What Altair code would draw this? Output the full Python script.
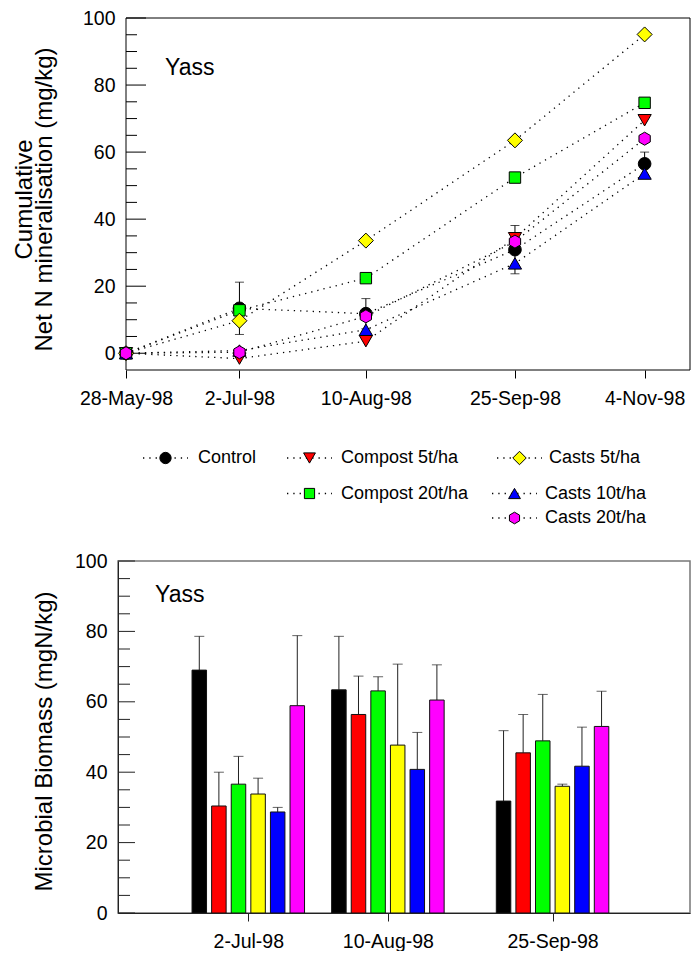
import altair as alt
import pandas as pd

# ---------------- data ----------------
series_names = ["Control", "Compost 5t/ha", "Compost 20t/ha",
                "Casts 5t/ha", "Casts 10t/ha", "Casts 20t/ha"]

# top panel: cumulative net N mineralisation (mg/kg)
sample_dates = ["1998-05-28", "1998-07-02", "1998-08-10", "1998-09-25", "1998-11-04"]
min_control = [0.0, 13.4, 11.8, 30.9, 56.5]
min_control_err = [0.0, 7.8, 4.5, 7.2, 3.5]
min_compost5 = [0.0, -1.6, 3.6, 34.3, 69.5]
min_compost20 = [0.0, 12.8, 22.4, 52.4, 74.7]
min_casts5 = [0.0, 9.7, 33.6, 63.5, 95.1]
min_casts10 = [0.0, 0.8, 7.0, 26.8, 53.6]
min_casts20 = [0.0, 0.3, 11.0, 33.3, 64.0]
top_axis_start = "1998-05-28"
top_axis_end = "1998-11-18"
top_y_ticks = [0, 20, 40, 60, 80, 100]

# bottom panel: microbial biomass (mgN/kg)
bio_dates = ["1998-07-02", "1998-08-10", "1998-09-25"]
bio_control = [69.0, 63.4, 31.8]
bio_control_sd = [9.6, 15.2, 20.0]
bio_compost5 = [30.4, 56.4, 45.5]
bio_compost5_sd = [9.6, 10.9, 10.9]
bio_compost20 = [36.6, 63.1, 48.9]
bio_compost20_sd = [7.9, 4.0, 13.2]
bio_casts5 = [33.8, 47.7, 36.0]
bio_casts5_sd = [4.5, 23.0, 0.6]
bio_casts10 = [28.7, 40.8, 41.7]
bio_casts10_sd = [1.3, 10.5, 11.1]
bio_casts20 = [58.9, 60.5, 53.0]
bio_casts20_sd = [19.9, 10.0, 10.0]
bottom_axis_start = "1998-05-28"
bottom_axis_end = "1998-11-01"
bottom_y_ticks = [0, 20, 40, 60, 80, 100]

site_label = "Yass"
top_title = ["Cumulative", "Net N mineralisation (mg/kg)"]
bottom_title = "Microbial Biomass (mgN/kg)"

# ---------------- styles ----------------
FONT = "Liberation Sans"
COLORS = ["#000000", "#ff0000", "#00ff00", "#ffff00", "#0000ff", "#ff00ff"]
HEX = "M0,-1L0.866,-0.5L0.866,0.5L0,1L-0.866,0.5L-0.866,-0.5Z"
SHAPES = ["circle", "triangle-down", "square", "diamond", "triangle-up", HEX]
SIZES = [160, 175, 130, 225, 175, 170]
DOTS = [1.3, 5]
W_TOP, W_BOT, H = 572, 572, 352
TOP_SHIFT = 8          # top frame starts 8px right of the bottom one
BAR_W, BAR_STEP = 14.5, 19.6


def dt(s):
    y, m, d = (int(p) for p in s.split("-"))
    return alt.DateTime(year=y, month=m, date=d)


one = pd.DataFrame({"k": [0]})

# ---------------- top panel ----------------
top_vals = [min_control, min_compost5, min_compost20, min_casts5, min_casts10, min_casts20]
top_df = pd.DataFrame([
    {"series": n, "date": pd.Timestamp(d), "value": v}
    for n, vals in zip(series_names, top_vals)
    for d, v in zip(sample_dates, vals)
])
err_df = pd.DataFrame([
    {"date": pd.Timestamp(d), "lo": v - e, "hi": v + e}
    for d, v, e in zip(sample_dates, min_control, min_control_err) if e > 0
])

x_top = alt.X(
    "date:T",
    scale=alt.Scale(domain=[dt(top_axis_start), dt(top_axis_end)],
                    range=[TOP_SHIFT, W_TOP], nice=False),
    axis=alt.Axis(values=[dt(d) for d in sample_dates], format="%-d-%b-%y",
                  title=None, domain=False, grid=False, tickSize=8,
                  tickColor="black", labelFontSize=19.5, labelColor="black",
                  labelPadding=11, labelOverlap=False, labelFlush=False),
)
y_top_axis = alt.Axis(values=top_y_ticks, title=top_title, domain=False,
                      ticks=False, tickSize=0, grid=False, labelFontSize=19.5,
                      labelColor="black", labelPadding=3, titleFontSize=24,
                      titleFontWeight="normal", titleColor="black",
                      titleLineHeight=20, titlePadding=26, titleY=181)
y_scale_top = alt.Scale(domain=[-5, 100], nice=False, zero=False)


def y_top(field):
    return alt.Y(field, scale=y_scale_top, axis=y_top_axis)


ticks_df = pd.DataFrame({"value": list(range(0, 101, 5))})

top_layers = [
    alt.Chart(one).mark_rect(fillOpacity=0, stroke="black", strokeWidth=1).encode(
        x=alt.value(TOP_SHIFT), x2=alt.value(W_TOP), y=alt.value(0), y2=alt.value(H)),
    alt.Chart(ticks_df).transform_filter("datum.value % 20 == 0").mark_rule(
        color="black").encode(y=y_top("value:Q"), x=alt.value(TOP_SHIFT),
                              x2=alt.value(TOP_SHIFT + 20)),
    alt.Chart(ticks_df).transform_filter("datum.value % 20 != 0").mark_rule(
        color="black").encode(y=y_top("value:Q"), x=alt.value(TOP_SHIFT),
                              x2=alt.value(TOP_SHIFT + 11)),
    alt.Chart(top_df).mark_line(color="black", strokeWidth=1.3, strokeDash=DOTS).encode(
        x=x_top, y=y_top("value:Q"), detail="series:N"),
    alt.Chart(err_df).mark_rule(color="black", strokeWidth=1).encode(
        x=x_top, y=y_top("lo:Q"), y2="hi:Q"),
    alt.Chart(err_df).mark_tick(orient="horizontal", size=9, thickness=1,
                                color="black").encode(x=x_top, y=y_top("lo:Q")),
    alt.Chart(err_df).mark_tick(orient="horizontal", size=9, thickness=1,
                                color="black").encode(x=x_top, y=y_top("hi:Q")),
]
for name, col, shp, sz in zip(series_names, COLORS, SHAPES, SIZES):
    top_layers.append(
        alt.Chart(top_df[top_df.series == name]).mark_point(
            shape=shp, size=sz, filled=True, fill=col, stroke="black",
            strokeWidth=1, opacity=1).encode(x=x_top, y=y_top("value:Q")))
top_layers.append(
    alt.Chart(pd.DataFrame({"t": [site_label]})).mark_text(
        align="left", baseline="alphabetic", fontSize=23, color="black").encode(
        text="t:N", x=alt.value(47), y=alt.value(57)))

top = alt.layer(*top_layers).properties(width=W_TOP, height=H)

# ---------------- legend ----------------
LEG_LEN = 45
legend_layout = {  # line start x, row y, text x  (pixels inside the legend strip)
    "Control": (25, 50, 80),
    "Compost 5t/ha": (169, 50, 223),
    "Casts 5t/ha": (379, 50, 431),
    "Compost 20t/ha": (169, 85.5, 223),
    "Casts 10t/ha": (374, 85.5, 427),
    "Casts 20t/ha": (374, 110, 427),
}
leg_df = pd.DataFrame([
    {"series": n, "x0": lx, "x1": lx + LEG_LEN, "xm": lx + LEG_LEN / 2, "y": ly, "xt": tx}
    for n, (lx, ly, tx) in legend_layout.items()
])
lx = lambda f: alt.X(f, scale=None, axis=None)
ly = alt.Y("y:Q", scale=None, axis=None)
leg_layers = [
    alt.Chart(leg_df).mark_rule(color="black", strokeWidth=1.3, strokeDash=DOTS).encode(
        x=lx("x0:Q"), x2="x1:Q", y=ly),
]
for name, col, shp, sz in zip(series_names, COLORS, SHAPES, SIZES):
    leg_layers.append(
        alt.Chart(leg_df[leg_df.series == name]).mark_point(
            shape=shp, size=sz * 0.8, filled=True, fill=col, stroke="black",
            strokeWidth=1, opacity=1).encode(x=lx("xm:Q"), y=ly))
leg_layers.append(
    alt.Chart(leg_df).mark_text(align="left", baseline="middle", fontSize=18,
                                color="black").encode(x=lx("xt:Q"), y=ly, text="series:N"))
legend = alt.layer(*leg_layers).properties(width=W_BOT, height=143)

# ---------------- bottom panel ----------------
bio_vals = [bio_control, bio_compost5, bio_compost20, bio_casts5, bio_casts10, bio_casts20]
bio_sds = [bio_control_sd, bio_compost5_sd, bio_compost20_sd, bio_casts5_sd,
           bio_casts10_sd, bio_casts20_sd]
bio_df = pd.DataFrame([
    {"series": n, "date": pd.Timestamp(d), "value": v, "hi": v + s}
    for n, vals, sds in zip(series_names, bio_vals, bio_sds)
    for d, v, s in zip(bio_dates, vals, sds)
])

x_bot = alt.X(
    "date:T",
    scale=alt.Scale(domain=[dt(bottom_axis_start), dt(bottom_axis_end)], nice=False),
    axis=alt.Axis(values=[dt(d) for d in bio_dates], format="%-d-%b-%y", title=None,
                  grid=False, domain=True, domainColor="#222", tickColor="#222",
                  tickSize=8, labelFontSize=19.5, labelPadding=11, labelColor="black",
                  labelOverlap=False, zindex=1),
)
y_bot_axis = alt.Axis(values=bottom_y_ticks, title=bottom_title, grid=False, domain=True,
                      domainColor="#222", ticks=False, tickSize=0, labelFontSize=19.5,
                      labelColor="black", labelPadding=11, titleFontSize=24,
                      titleFontWeight="normal", titleColor="black", titlePadding=18,
                      titleY=180, zindex=1)
y_scale_bot = alt.Scale(domain=[0, 100], nice=False)


def y_bot(field):
    return alt.Y(field, scale=y_scale_bot, axis=y_bot_axis)


bot_layers = [
    alt.Chart(one).mark_rect(fillOpacity=0, stroke="#777", strokeWidth=1.5).encode(
        x=alt.value(0), x2=alt.value(W_BOT), y=alt.value(0), y2=alt.value(H)),
    alt.Chart(ticks_df).transform_filter("datum.value % 20 == 0").mark_rule(
        color="#222").encode(y=y_bot("value:Q"), x=alt.value(0), x2=alt.value(17)),
    alt.Chart(ticks_df).transform_filter("datum.value % 20 != 0").mark_rule(
        color="#222").encode(y=y_bot("value:Q"), x=alt.value(0), x2=alt.value(12)),
]
for i, (name, col) in enumerate(zip(series_names, COLORS)):
    off = (i - 2.5) * BAR_STEP
    sub = bio_df[bio_df.series == name]
    bot_layers.append(
        alt.Chart(sub).mark_rule(xOffset=off, color="#222", strokeWidth=1).encode(
            x=x_bot, y=y_bot("value:Q"), y2="hi:Q"))
    bot_layers.append(
        alt.Chart(sub).mark_tick(orient="horizontal", xOffset=off, size=10, thickness=1,
                                 color="#222").encode(x=x_bot, y=y_bot("hi:Q")))
    bot_layers.append(
        alt.Chart(sub).mark_bar(width=BAR_W, xOffset=off, fill=col, stroke="#111",
                                strokeWidth=1).encode(x=x_bot, y=y_bot("value:Q")))
bot_layers.append(
    alt.Chart(pd.DataFrame({"t": [site_label]})).mark_text(
        align="left", baseline="alphabetic", fontSize=23, color="black").encode(
        text="t:N", x=alt.value(37), y=alt.value(41)))

bottom = alt.layer(*bot_layers).properties(width=W_BOT, height=H)

chart = alt.vconcat(
    top, legend, bottom, spacing=0,
    padding={"left": 4, "top": 0, "right": 0, "bottom": 0},
).configure(font=FONT).configure_view(stroke=None)

chart.save("out.html", embed_options={"renderer": "svg", "actions": False})
